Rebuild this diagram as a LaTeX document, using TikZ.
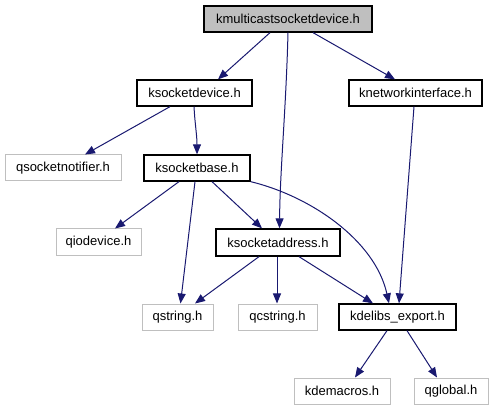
\documentclass[tikz,border=0pt]{standalone}
\usepackage{fontspec}
\setmainfont{Liberation Sans}
\usetikzlibrary{arrows.meta}
\definecolor{edgecol}{HTML}{191970}
\definecolor{graybox}{HTML}{BFBFBF}
\definecolor{fillgray}{HTML}{BFBFBF}
\tikzset{
  base/.style={rectangle, inner sep=0pt, minimum height=26pt, font=\fontsize{13pt}{15pt}\selectfont, text=black},
  blk/.style={base, draw=black, line width=1.3pt, fill=white},
  lgt/.style={base, draw=graybox, line width=1pt, fill=white},
  root/.style={base, draw=black, line width=1.3pt, fill=fillgray},
  dep/.style={draw=edgecol, line width=1pt, -{Triangle[length=10pt,width=8pt]}},
}
\begin{document}
\begin{tikzpicture}[x=1pt,y=-1pt]
\useasboundingbox (0,0) rectangle (492,411);
\node[root, minimum width=168pt] (kmulti) at (288,19) {kmulticastsocketdevice.h};
\node[blk, minimum width=115pt] (ksd) at (194.5,93) {ksocketdevice.h};
\node[blk, minimum width=133pt] (kni) at (415.5,93) {knetworkinterface.h};
\node[lgt, minimum width=116pt] (qsn) at (63,168) {qsocketnotifier.h};
\node[blk, minimum width=106pt] (ksb) at (197,168) {ksocketbase.h};
\node[lgt, minimum width=85pt, minimum height=27pt] (qio) at (98.5,242.5) {qiodevice.h};
\node[blk, minimum width=124pt, minimum height=27pt] (ksa) at (278,242.5) {ksocketaddress.h};
\node[lgt, minimum width=71pt] (qs) at (177.5,317) {qstring.h};
\node[lgt, minimum width=79pt] (qcs) at (277.5,317) {qcstring.h};
\node[blk, minimum width=117pt] (kde) at (397.5,317) {kdelibs\_export.h};
\node[lgt, minimum width=96pt] (kdm) at (342,391) {kdemacros.h};
\node[lgt, minimum width=74pt] (qg) at (451,391) {qglobal.h};

\draw[dep] ([xshift=-18pt]kmulti.south) -- ([xshift=23.5pt]ksd.north);
\draw[dep] ([xshift=25pt]kmulti.south) -- ([xshift=-20.5pt]kni.north);
\draw[dep] (kmulti.south) .. controls (286,110) and (280,170) .. ([xshift=1.5pt]ksa.north);
\draw[dep] ([xshift=-24.5pt]ksd.south) -- ([xshift=22pt]qsn.north);
\draw[dep] ([xshift=-0.5pt]ksd.south) .. controls (195,125) and (197,135) .. (ksb.north);
\draw[dep] ([xshift=-1.5pt]kni.south) -- ([xshift=1.5pt]kde.north);
\draw[dep] ([xshift=-18pt]ksb.south) -- ([xshift=16.5pt]qio.north);
\draw[dep] ([xshift=-2pt]ksb.south) -- ([xshift=3pt]qs.north);
\draw[dep] ([xshift=15pt]ksb.south) -- ([xshift=-16pt]ksa.north);
\draw[dep] (ksb.south east) .. controls (310,196) and (375,240) .. ([xshift=-8.5pt]kde.north);
\draw[dep] ([xshift=-19pt]ksa.south) -- ([xshift=17.5pt]qs.north);
\draw[dep] ([xshift=-1pt]ksa.south) -- ([xshift=-0.5pt]qcs.north);
\draw[dep] ([xshift=21pt]ksa.south) -- ([xshift=-24.5pt]kde.north);
\draw[dep] ([xshift=-10.5pt]kde.south) -- ([xshift=13pt]kdm.north);
\draw[dep] ([xshift=9.5pt]kde.south) -- ([xshift=-14pt]qg.north);
\end{tikzpicture}
\end{document}
